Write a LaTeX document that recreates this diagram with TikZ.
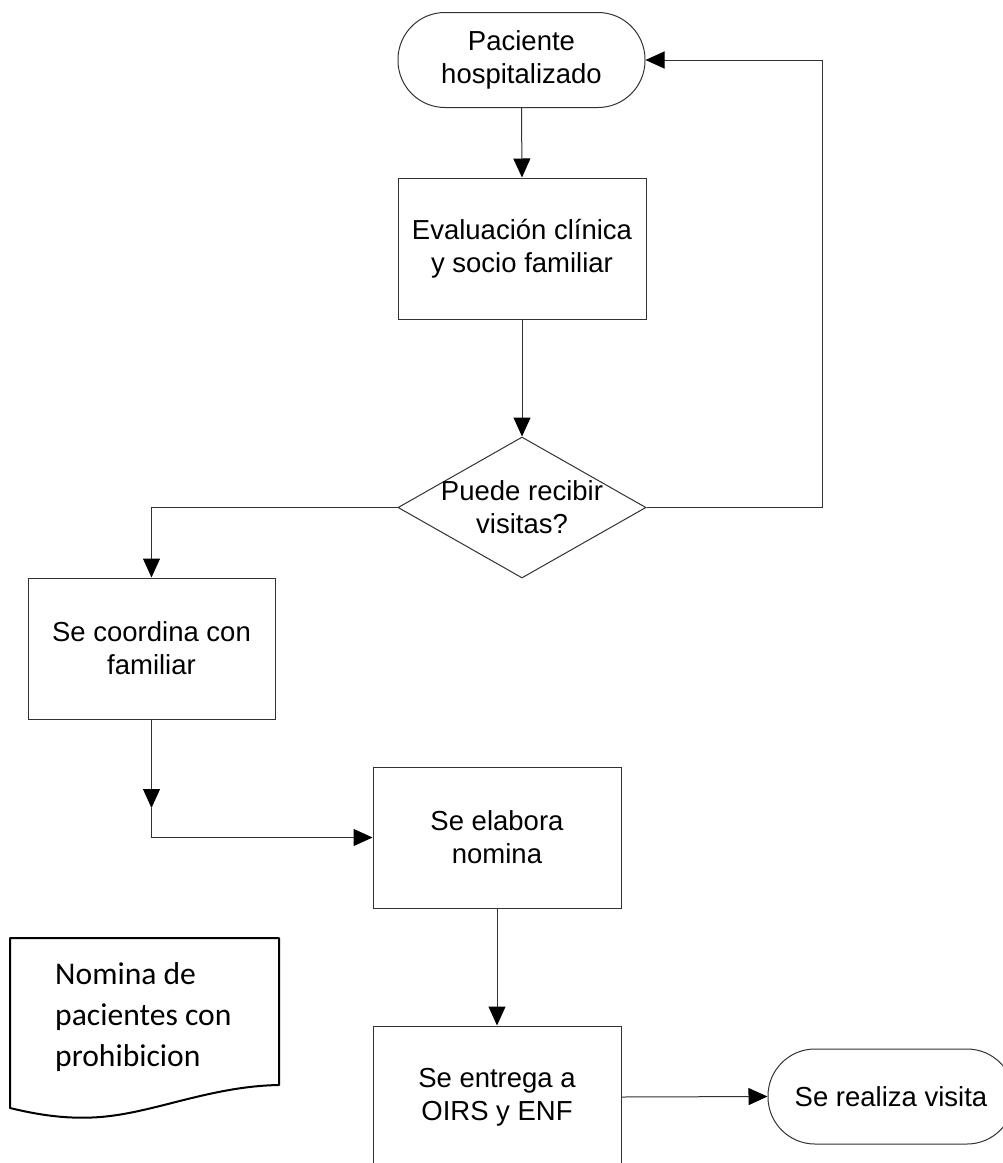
\documentclass[tikz,border=0pt]{standalone}
\usepackage{fontspec}
\setmainfont{Liberation Sans}
\newfontfamily\docfont{Carlito}
\usetikzlibrary{shapes.geometric,arrows.meta}
\definecolor{linecol}{RGB}{50,50,50}
\tikzset{
  lbl/.style={font=\fontsize{27.5}{33}\selectfont, align=center, text=black},
  procbox/.style={draw=linecol, line width=1pt, rectangle, minimum width=248pt, minimum height=141pt, inner sep=0pt},
  termbox/.style={draw=linecol, line width=1pt, rectangle, rounded corners=47pt, minimum width=247pt, minimum height=95pt, inner sep=0pt},
  decbox/.style={draw=linecol, line width=1pt, diamond, minimum width=248pt, minimum height=141pt, inner sep=0pt},
  arr/.style={draw=linecol, line width=1pt, -{Triangle[length=19pt,width=17pt,color=black,fill=black]}},
  plainline/.style={draw=linecol, line width=1pt}
}
\begin{document}
\begin{tikzpicture}[x=1pt,y=-1pt]
\clip (0,0) rectangle (1003,1163);
\fill[white] (0,0) rectangle (1003,1163);

% nodes
\node[termbox, lbl] (t1) at (521.5,60) {Paciente\\hospitalizado};
\node[procbox, lbl] (b1) at (522,248.5) {Evaluación clínica\\y socio familiar};
\node[decbox] (d1) at (522,507.5) {};
\node[lbl] (d1t) at (d1.center) {Puede recibir\\visitas?};
\node[procbox, lbl, minimum width=247pt] (b2) at (151.5,648.5) {Se coordina con\\familiar};
\node[procbox, lbl] (b3) at (497,837.5) {Se elabora\\nomina};
\node[procbox, lbl, minimum height=142pt] (b4) at (497,1097) {Se entrega a\\OIRS y ENF};
\node[termbox, lbl, minimum width=246pt] (t2) at (891,1096.5) {Se realiza visita};

% document shape
\draw[line width=2pt, black, line join=round]
  (10,938) -- (279,938) -- (279,1085)
  .. controls (215,1086) and (160,1110) .. (110,1116)
  .. controls (70,1121) and (35,1114) .. (10,1108) -- cycle;
\node[font=\docfont\fontsize{31.6}{41}\selectfont, align=left, anchor=west, inner sep=0pt] (doct) at (55,1017) {Nomina de\\pacientes con\\prohibicion};

% connectors
\draw[arr] (t1.south) -- (b1.north);
\draw[arr] (b1.south) -- (d1.north);
\draw[arr] (d1.west) -| (b2.north);
\draw[arr] (d1.east) -- ++(176,0) |- (t1.east);
\coordinate (m) at (151.5,808);
\draw[arr] (b2.south) -- (m);
\draw[arr] (m) |- (b3.west);
\draw[arr] (b3.south) -- (b4.north);
\draw[arr] (b4.east) -- (t2.west);
\end{tikzpicture}
\end{document}
